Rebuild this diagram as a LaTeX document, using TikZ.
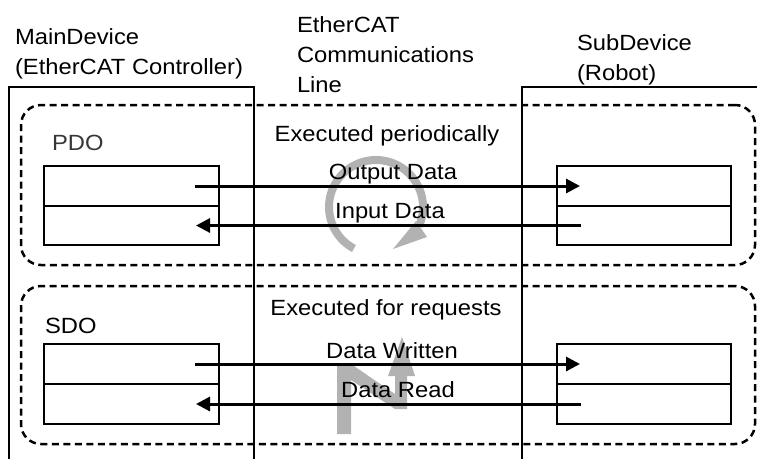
\documentclass[tikz,border=0pt]{standalone}
\usepackage{fontspec}
\setmainfont{Liberation Sans}[FakeStretch=1.08]
\usetikzlibrary{arrows.meta}
\definecolor{cyclegray}{RGB}{178,178,178}
\definecolor{pdogray}{RGB}{55,55,55}

\begin{document}
\begin{tikzpicture}[x=1pt,y=-1pt,
  lbl/.style={font=\fontsize{22}{30}\selectfont, inner sep=0pt, outer sep=0pt},
  devline/.style={line width=1.3pt},
  cell/.style={draw, line width=2pt, minimum width=175, minimum height=40,
    anchor=north west, inner sep=0pt, outer sep=0pt},
  group/.style={draw, line width=2.5pt, dash pattern=on 7pt off 4.5pt,
    rounded corners=20pt, anchor=north west, inner sep=0pt, outer sep=0pt},
  flow/.style={line width=3pt, -{Triangle[length=14pt,width=14pt]}},
  cyc/.style={draw=cyclegray, line width=8pt}
]
\useasboundingbox (0,0) rectangle (757,459);

% grey symbols: cyclic exchange (PDO) and on-request exchange (SDO)
\coordinate (cyc) at (376,207);
\draw[cyc]
  plot[domain=118:384, samples=70, smooth] ({376+47*cos(\x)},{207+47*sin(\x)});
\fill[cyclegray] (393,249) -- (427,237) -- (416,221) -- cycle;
\fill[cyclegray] (337,434) -- (337,364) -- (351,364) -- (395,394) -- (395,376)
  -- (388,376) -- (402,337) -- (415,376) -- (407,376) -- (407,409) -- (395,409)
  -- (351,380) -- (351,434) -- cycle;

% device outlines
\draw[devline] (9,459) -- (9,87) -- (254,87) -- (254,459);
\draw[devline] (522,459) -- (522,87) -- (757,87);

% communication groups
\node[group, minimum width=734, minimum height=160] (pdo) at (21,105) {};
\node[group, minimum width=734, minimum height=158] (sdo) at (21,286) {};

% PDO data cells
\node[cell] (pmo) at (44,166) {};
\node[cell, minimum height=39] (pmi) at (44,206) {};
\node[cell, minimum width=174] (pso) at (557,166) {};
\node[cell, minimum width=174, minimum height=39] (psi) at (557,206) {};

% SDO data cells
\node[cell] (smw) at (44,344) {};
\node[cell] (smr) at (44,384) {};
\node[cell, minimum width=174] (ssw) at (557,344) {};
\node[cell, minimum width=174] (ssr) at (557,384) {};

% data flows
\draw[flow] ([xshift=-24pt]pmo.east) -- ([xshift=23pt]pso.west);
\draw[flow] ([xshift=24pt]psi.west) -- ([xshift=-23pt]pmi.east);
\draw[flow] ([xshift=-24pt]smw.east) -- ([xshift=23pt]ssw.west);
\draw[flow] ([xshift=24pt]ssr.west) -- ([xshift=-23pt]smr.east);

% labels
\node[lbl, align=left, anchor=base west] (mainlbl) at (15,74)
  {MainDevice\\(EtherCAT Controller)};
\node[lbl, align=left, anchor=base west] (linelbl) at (297,92)
  {EtherCAT\\Communications\\Line};
\node[lbl, align=left, anchor=base west] (sublbl) at (577,80)
  {SubDevice\\(Robot)};
\node[lbl, anchor=base] (perlbl) at (387,141) {Executed periodically};
\node[lbl, anchor=base] (reqlbl) at (386,315) {Executed for requests};
\node[lbl, anchor=base west, text=pdogray] (pdolbl) at (52,150) {PDO};
\node[lbl, anchor=base west] (sdolbl) at (45,333) {SDO};
\node[lbl, anchor=base] (outlbl) at (393,179) {Output Data};
\node[lbl, anchor=base] (inlbl) at (390,218) {Input Data};
\node[lbl, anchor=base] (wrlbl) at (392,358) {Data Written};
\node[lbl, anchor=base] (rdlbl) at (398,397) {Data Read};
\end{tikzpicture}
\end{document}
